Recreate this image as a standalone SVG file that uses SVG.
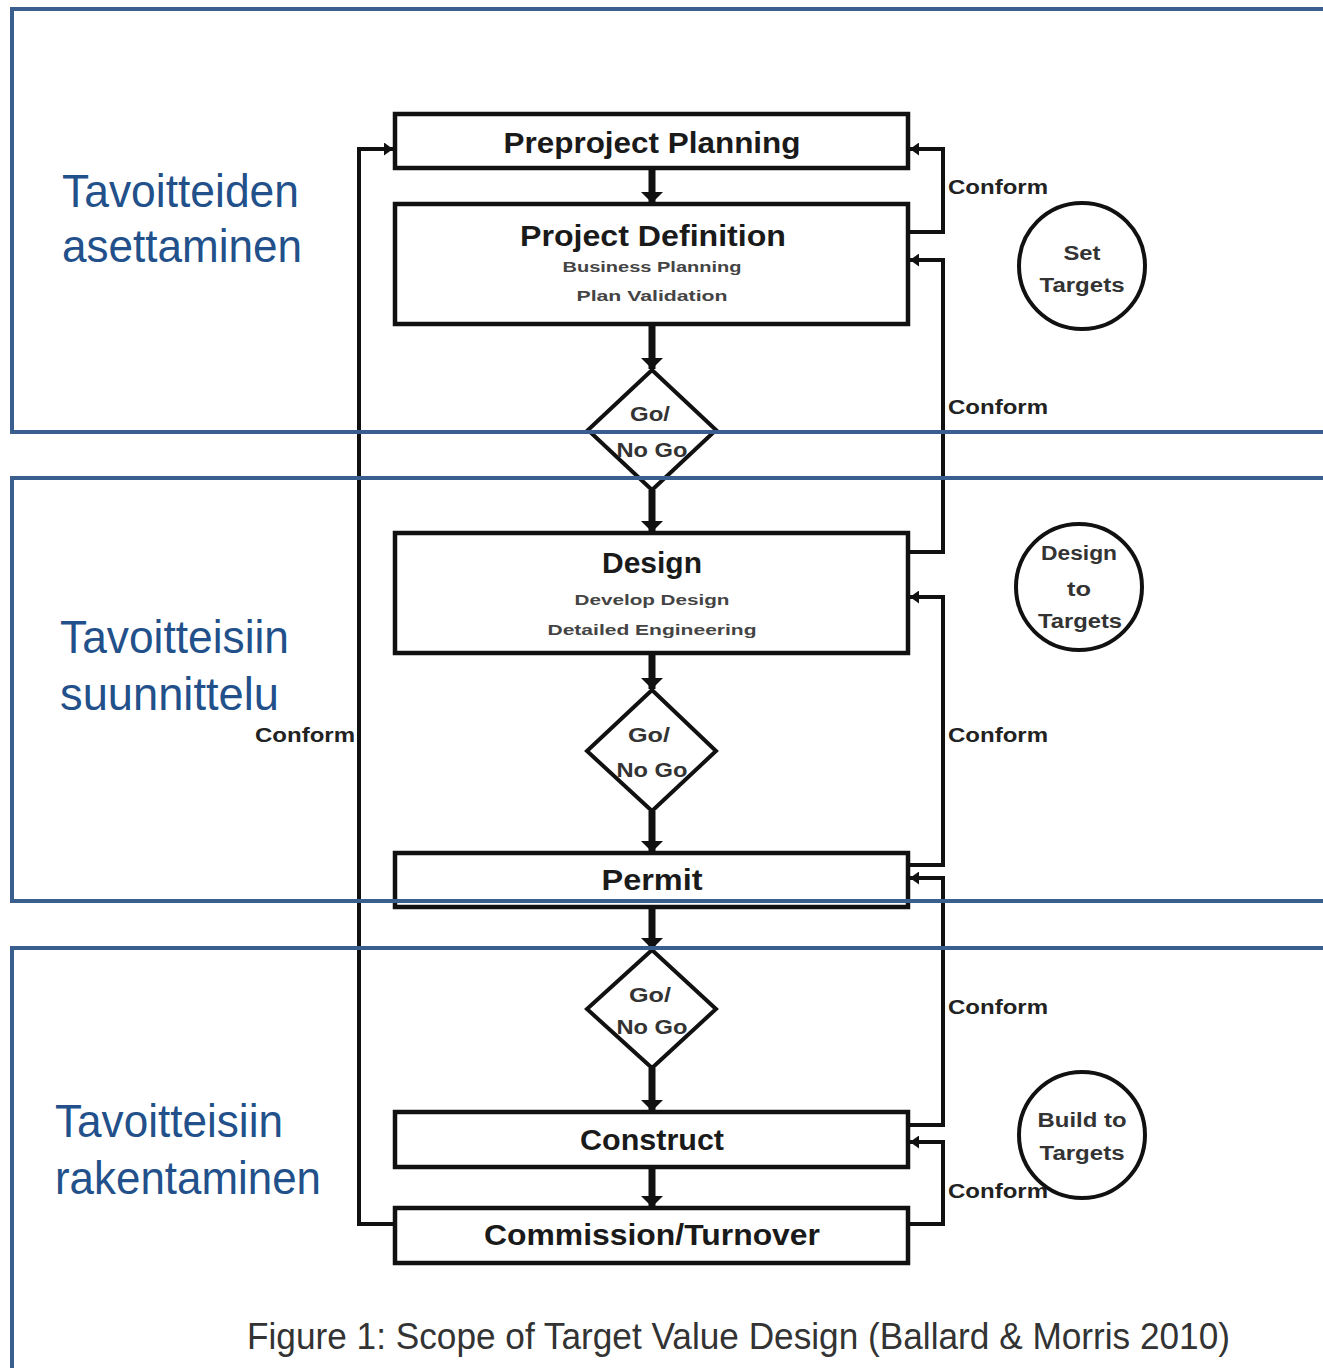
<svg xmlns="http://www.w3.org/2000/svg" width="1323" height="1368" viewBox="0 0 1323 1368">
<defs>
<style>
.box{fill:#fff;stroke:#111;stroke-width:4.5}
.dia{fill:#fff;stroke:#111;stroke-width:4}
.circ{fill:#fff;stroke:#111;stroke-width:4}
.main{fill:none;stroke:#111;stroke-width:7}
.fb{fill:none;stroke:#111;stroke-width:4}
.band{fill:none;stroke:#3a5f8f;stroke-width:4}
.t1{font-family:"Liberation Sans",Arial,sans-serif;font-weight:bold;font-size:29px;fill:#1a1a1a;text-anchor:middle}
.t2{font-family:"Liberation Sans",Arial,sans-serif;font-weight:bold;font-size:14px;fill:#444;text-anchor:middle}
.tg{font-family:"Liberation Sans",Arial,sans-serif;font-weight:bold;font-size:20px;fill:#333;text-anchor:middle}
.tc{font-family:"Liberation Sans",Arial,sans-serif;font-weight:bold;font-size:21px;fill:#222}
.tt{font-family:"Liberation Sans",Arial,sans-serif;font-weight:bold;font-size:20px;fill:#333;text-anchor:middle}
.lab{font-family:"Liberation Sans",Arial,sans-serif;font-size:47px;fill:#22508a}
.cap{font-family:"Liberation Sans",Arial,sans-serif;font-size:36px;fill:#333}
</style>
<marker id="ah" viewBox="0 0 10 10" preserveAspectRatio="none" refX="10" refY="5" markerWidth="11" markerHeight="22" markerUnits="userSpaceOnUse" orient="auto">
<path d="M0,0 L10,5 L0,10 Z" fill="#111"/>
</marker>
<marker id="ahs" viewBox="0 0 10 10" preserveAspectRatio="none" refX="10" refY="5" markerWidth="9" markerHeight="13" markerUnits="userSpaceOnUse" orient="auto">
<path d="M0,0 L10,5 L0,10 Z" fill="#111"/>
</marker>
</defs>
<rect width="1323" height="1368" fill="#fff"/>

<g id="connectors">
<path class="main" d="M652,168 V203" marker-end="url(#ah)"/>
<path class="main" d="M652,324 V369" marker-end="url(#ah)"/>
<path class="main" d="M652,490 V532" marker-end="url(#ah)"/>
<path class="main" d="M652,653 V689" marker-end="url(#ah)"/>
<path class="main" d="M652,811 V852" marker-end="url(#ah)"/>
<path class="main" d="M652,908 V949" marker-end="url(#ah)"/>
<path class="main" d="M652,1068 V1111" marker-end="url(#ah)"/>
<path class="main" d="M652,1167 V1207" marker-end="url(#ah)"/>
<path class="fb" d="M908,232 H943 V149 H910" marker-end="url(#ahs)"/>
<path class="fb" d="M908,552 H943 V260 H910" marker-end="url(#ahs)"/>
<path class="fb" d="M908,865 H943 V597 H910" marker-end="url(#ahs)"/>
<path class="fb" d="M908,1125 H943 V878 H910" marker-end="url(#ahs)"/>
<path class="fb" d="M908,1224 H943 V1142 H910" marker-end="url(#ahs)"/>
<path class="fb" d="M395,1224 H359 V149 H393" marker-end="url(#ahs)"/>
<text class="tc" x="948" y="194" textLength="100" lengthAdjust="spacingAndGlyphs">Conform</text>
<text class="tc" x="948" y="414" textLength="100" lengthAdjust="spacingAndGlyphs">Conform</text>
<text class="tc" x="948" y="742" textLength="100" lengthAdjust="spacingAndGlyphs">Conform</text>
<text class="tc" x="948" y="1014" textLength="100" lengthAdjust="spacingAndGlyphs">Conform</text>
<text class="tc" x="948" y="1198" textLength="100" lengthAdjust="spacingAndGlyphs">Conform</text>
<text class="tc" x="255" y="742" textLength="100" lengthAdjust="spacingAndGlyphs">Conform</text>
</g>

<g id="preproject">
<rect class="box" x="395" y="114" width="513" height="54"/>
<text class="t1" x="652" y="153" textLength="297" lengthAdjust="spacingAndGlyphs">Preproject Planning</text>
</g>
<g id="project-definition">
<rect class="box" x="395" y="204" width="513" height="120"/>
<text class="t1" x="653" y="246" textLength="266" lengthAdjust="spacingAndGlyphs">Project Definition</text>
<text class="t2" x="652" y="272" textLength="179" lengthAdjust="spacingAndGlyphs">Business Planning</text>
<text class="t2" x="652" y="301" textLength="151" lengthAdjust="spacingAndGlyphs">Plan Validation</text>
</g>
<g id="gonogo1">
<polygon class="dia" points="652,370 716,430 652,490 588,430"/>
<text class="tg" x="650" y="421" textLength="40" lengthAdjust="spacingAndGlyphs">Go/</text>
<text class="tg" x="652" y="457" textLength="71" lengthAdjust="spacingAndGlyphs">No Go</text>
</g>
<g id="design">
<rect class="box" x="395" y="533" width="513" height="120"/>
<text class="t1" x="652" y="573" textLength="100" lengthAdjust="spacingAndGlyphs">Design</text>
<text class="t2" x="652" y="605" textLength="155" lengthAdjust="spacingAndGlyphs">Develop Design</text>
<text class="t2" x="652" y="635" textLength="209" lengthAdjust="spacingAndGlyphs">Detailed Engineering</text>
</g>
<g id="gonogo2">
<polygon class="dia" points="652,690 716,751 652,811 587,751"/>
<text class="tg" x="649" y="742" textLength="42" lengthAdjust="spacingAndGlyphs">Go/</text>
<text class="tg" x="652" y="777" textLength="71" lengthAdjust="spacingAndGlyphs">No Go</text>
</g>
<g id="permit">
<rect class="box" x="395" y="853" width="513" height="54"/>
<text class="t1" x="652" y="890" textLength="101" lengthAdjust="spacingAndGlyphs">Permit</text>
</g>
<g id="gonogo3">
<polygon class="dia" points="652,950 716,1009 652,1068 587,1009"/>
<text class="tg" x="650" y="1002" textLength="42" lengthAdjust="spacingAndGlyphs">Go/</text>
<text class="tg" x="652" y="1034" textLength="71" lengthAdjust="spacingAndGlyphs">No Go</text>
</g>
<g id="construct">
<rect class="box" x="395" y="1112" width="513" height="55"/>
<text class="t1" x="652" y="1150" textLength="144" lengthAdjust="spacingAndGlyphs">Construct</text>
</g>
<g id="commission">
<rect class="box" x="395" y="1208" width="513" height="55"/>
<text class="t1" x="652" y="1245" textLength="336" lengthAdjust="spacingAndGlyphs">Commission/Turnover</text>
</g>

<g id="set-targets">
<circle class="circ" cx="1082" cy="266" r="63"/>
<text class="tt" x="1082" y="260" textLength="37" lengthAdjust="spacingAndGlyphs">Set</text>
<text class="tt" x="1082" y="292" textLength="85" lengthAdjust="spacingAndGlyphs">Targets</text>
</g>
<g id="design-to-targets">
<circle class="circ" cx="1079" cy="587" r="63"/>
<text class="tt" x="1079" y="560" textLength="76" lengthAdjust="spacingAndGlyphs">Design</text>
<text class="tt" x="1079" y="596" textLength="24" lengthAdjust="spacingAndGlyphs">to</text>
<text class="tt" x="1080" y="628" textLength="84" lengthAdjust="spacingAndGlyphs">Targets</text>
</g>
<g id="build-to-targets">
<circle class="circ" cx="1082" cy="1135" r="63"/>
<text class="tt" x="1082" y="1127" textLength="89" lengthAdjust="spacingAndGlyphs">Build to</text>
<text class="tt" x="1082" y="1160" textLength="85" lengthAdjust="spacingAndGlyphs">Targets</text>
</g>

<g id="phase-bands">
<path class="band" d="M1330,9 H12 V432 H1330"/>
<path class="band" d="M1330,478 H12 V901 H1330"/>
<path class="band" d="M1330,948 H12 V1375"/>
</g>

<g id="phase-labels">
<text class="lab" x="62" y="207" textLength="237" lengthAdjust="spacingAndGlyphs">Tavoitteiden</text>
<text class="lab" x="62" y="262" textLength="240" lengthAdjust="spacingAndGlyphs">asettaminen</text>
<text class="lab" x="60" y="653" textLength="229" lengthAdjust="spacingAndGlyphs">Tavoitteisiin</text>
<text class="lab" x="60" y="710" textLength="219" lengthAdjust="spacingAndGlyphs">suunnittelu</text>
<text class="lab" x="55" y="1137" textLength="228" lengthAdjust="spacingAndGlyphs">Tavoitteisiin</text>
<text class="lab" x="55" y="1194" textLength="266" lengthAdjust="spacingAndGlyphs">rakentaminen</text>
</g>

<text class="cap" x="247" y="1349" textLength="983" lengthAdjust="spacingAndGlyphs">Figure 1: Scope of Target Value Design (Ballard &amp; Morris 2010)</text>
</svg>
